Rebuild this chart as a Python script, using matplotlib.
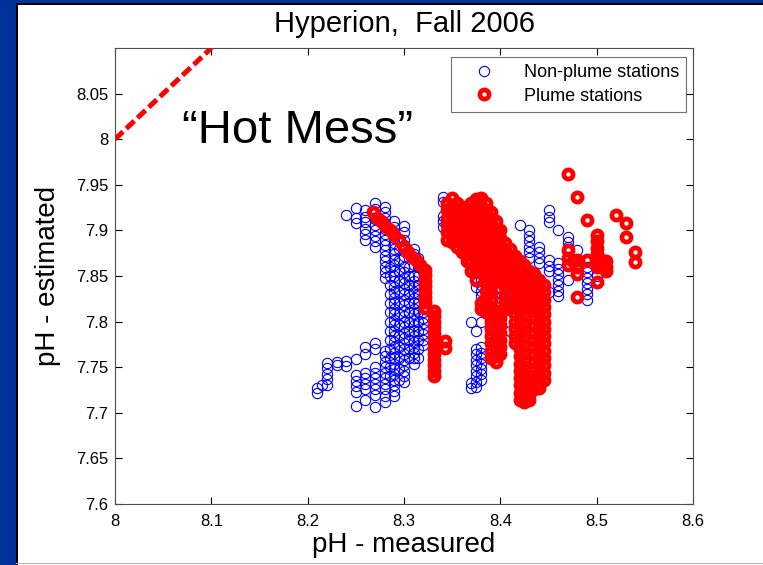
import matplotlib
matplotlib.use('Agg')
import matplotlib.pyplot as plt
from matplotlib.patches import Rectangle

plt.rcParams['font.family'] = ['Liberation Sans', 'DejaVu Sans']

# Data: columns of (measured pH, [estimated pH values])
blue_left = [
    (8.21, [7.727, 7.722]),
    (8.215, [7.73]),
    (8.22, [7.755, 7.749, 7.743, 7.737, 7.731]),
    (8.23, [7.756, 7.752]),
    (8.24, [7.917, 7.757, 7.751]),
    (8.25, [7.925, 7.914, 7.908, 7.759, 7.741, 7.735, 7.729, 7.723, 7.708]),
    (8.26, [7.922, 7.915, 7.909, 7.902, 7.896, 7.89, 7.772, 7.765, 7.744, 7.738, 7.732, 7.726, 7.714]),
    (8.27, [7.93, 7.924, 7.918, 7.912, 7.906, 7.9, 7.894, 7.888, 7.882, 7.777, 7.77, 7.75, 7.744,
            7.738, 7.732, 7.726, 7.72, 7.706]),
    (8.28, [7.926, 7.92, 7.914, 7.908, 7.902, 7.896, 7.89, 7.884, 7.878, 7.872, 7.866, 7.86, 7.854,
            7.848, 7.768, 7.762, 7.756, 7.75, 7.744, 7.738, 7.732, 7.726, 7.718, 7.712]),
    (8.285, [7.86, 7.85, 7.84, 7.83, 7.82, 7.81, 7.8, 7.79, 7.78, 7.77, 7.76, 7.75, 7.74]),
    (8.29, [7.91, 7.904, 7.898, 7.892, 7.886, 7.88, 7.874, 7.868, 7.862, 7.856, 7.85, 7.844, 7.838,
            7.832, 7.826, 7.82, 7.814, 7.808, 7.802, 7.796, 7.79, 7.784, 7.778, 7.772, 7.766, 7.76,
            7.754, 7.748, 7.742, 7.736, 7.73, 7.724, 7.718]),
    (8.295, [7.88, 7.868, 7.856, 7.844, 7.832, 7.82, 7.808, 7.796, 7.784, 7.772, 7.76, 7.748, 7.736]),
    (8.30, [7.905, 7.898, 7.89, 7.884, 7.872, 7.86, 7.854, 7.848, 7.842, 7.836, 7.83, 7.824, 7.818,
            7.812, 7.806, 7.8, 7.794, 7.788, 7.782, 7.776, 7.77, 7.764, 7.758, 7.752, 7.746, 7.74, 7.734]),
    (8.305, [7.86, 7.85, 7.84, 7.83, 7.82, 7.81, 7.8, 7.79, 7.78, 7.77, 7.76]),
    (8.31, [7.88, 7.874, 7.862, 7.85, 7.844, 7.838, 7.832, 7.826, 7.82, 7.814, 7.808, 7.802, 7.796,
            7.79, 7.784, 7.778, 7.772, 7.766, 7.76, 7.754]),
    (8.315, [7.87, 7.86, 7.85, 7.84, 7.83, 7.82, 7.81, 7.8, 7.79, 7.78, 7.77, 7.76]),
    (8.32, [7.81, 7.804, 7.798, 7.792, 7.786, 7.78, 7.774]),
]

blue_mid = [
    (8.34, [7.937, 7.931, 7.916, 7.91, 7.904]),
    (8.345, [7.928, 7.9]),
    (8.35, [7.905, 7.898, 7.891]),
    (8.36, [7.89, 7.883]),
    (8.37, [7.80, 7.733, 7.727]),
    (8.375, [7.845, 7.838, 7.79, 7.77, 7.764, 7.758, 7.752, 7.746, 7.74, 7.734, 7.728]),
    (8.38, [7.846, 7.84, 7.834, 7.828, 7.822, 7.8, 7.772, 7.766, 7.76, 7.754, 7.748, 7.742, 7.736]),
    (8.39, [7.838, 7.832, 7.826, 7.82, 7.814, 7.808, 7.8, 7.794, 7.788, 7.782, 7.776, 7.77, 7.764]),
    (8.40, [7.838, 7.832, 7.826, 7.82]),
    (8.41, [7.79]),
    (8.42, [7.906]),
    (8.43, [7.90, 7.894, 7.888, 7.882, 7.876, 7.87]),
    (8.44, [7.882, 7.876, 7.87, 7.864]),
]

blue_right = [
    (8.45, [7.922, 7.915, 7.909, 7.868, 7.861, 7.855, 7.833]),
    (8.46, [7.90, 7.864, 7.858, 7.852, 7.846, 7.84, 7.834, 7.828]),
    (8.47, [7.893, 7.887, 7.882, 7.846]),
    (8.48, [7.878]),
    (8.49, [7.866, 7.86, 7.854, 7.848, 7.842, 7.836, 7.83, 7.824]),
    (8.50, [7.85]),
]

red_band = [
    (8.268, [7.92]), (8.272, [7.914]), (8.276, [7.91]), (8.28, [7.905]),
    (8.285, [7.9]), (8.29, [7.895]), (8.295, [7.889]), (8.30, [7.882]),
    (8.304, [7.876]), (8.308, [7.871]), (8.312, [7.867]), (8.317, [7.862]),
    (8.322, [7.857, 7.851, 7.845, 7.839, 7.833, 7.827, 7.821, 7.815]),
    (8.331, [7.812, 7.806, 7.8, 7.794, 7.788, 7.782, 7.776, 7.77, 7.764, 7.758, 7.752, 7.746, 7.74]),
    (8.343, [7.779, 7.771]),
]

red_mass = [
    (8.345, [7.93, 7.922, 7.914, 7.906, 7.898, 7.89]),
    (8.35, [7.935, 7.927, 7.919, 7.911, 7.903, 7.895, 7.887]),
    (8.355, [7.93, 7.922, 7.914, 7.906, 7.898, 7.89, 7.882]),
    (8.36, [7.926, 7.918, 7.91, 7.902, 7.894, 7.886, 7.876]),
    (8.365, [7.924, 7.916, 7.908, 7.9, 7.892, 7.884, 7.876, 7.866]),
    (8.37, [7.93, 7.922, 7.914, 7.906, 7.898, 7.89, 7.882, 7.874, 7.866, 7.856]),
    (8.375, [7.934, 7.926, 7.918, 7.91, 7.902, 7.894, 7.886, 7.878, 7.87, 7.862, 7.854, 7.846]),
    (8.38, [7.935, 7.927, 7.919, 7.911, 7.903, 7.895, 7.887, 7.879, 7.871, 7.863, 7.855, 7.82, 7.814]),
    (8.385, [7.93, 7.922, 7.914, 7.906, 7.898, 7.89, 7.882, 7.874, 7.866, 7.858, 7.85, 7.842,
             7.834, 7.826, 7.818, 7.81]),
    (8.39, [7.92, 7.912, 7.904, 7.896, 7.888, 7.88, 7.872, 7.864, 7.856, 7.848, 7.84, 7.832, 7.824,
            7.816, 7.808, 7.8, 7.792, 7.784, 7.776, 7.768, 7.76]),
    (8.395, [7.91, 7.902, 7.894, 7.886, 7.878, 7.87, 7.862, 7.854, 7.846, 7.81, 7.802, 7.794,
             7.786, 7.778, 7.77, 7.762, 7.756]),
    (8.40, [7.9, 7.892, 7.884, 7.876, 7.868, 7.86, 7.852, 7.844, 7.812, 7.804, 7.796, 7.788,
            7.78, 7.772, 7.764]),
    (8.405, [7.886, 7.878, 7.87, 7.862, 7.854, 7.846, 7.838, 7.83, 7.822, 7.814]),
    (8.41, [7.88, 7.872, 7.864, 7.856, 7.848, 7.84, 7.832, 7.824, 7.816]),
    (8.415, [7.872, 7.864, 7.856, 7.848, 7.84, 7.832, 7.824, 7.816, 7.808, 7.8, 7.792, 7.784, 7.776]),
    (8.42, [7.866, 7.858, 7.85, 7.842, 7.834, 7.826, 7.818, 7.81, 7.802, 7.794, 7.786, 7.778,
            7.77, 7.762, 7.754, 7.746, 7.738, 7.73, 7.722, 7.714]),
    (8.425, [7.862, 7.854, 7.846, 7.838, 7.83, 7.822, 7.814, 7.806, 7.798, 7.79, 7.782, 7.774,
             7.766, 7.758, 7.75, 7.742, 7.734, 7.726, 7.718, 7.712]),
    (8.43, [7.856, 7.848, 7.84, 7.832, 7.824, 7.816, 7.736, 7.728, 7.72, 7.714]),
    (8.435, [7.852, 7.844, 7.836, 7.828, 7.82, 7.812, 7.804, 7.796, 7.788, 7.78, 7.772, 7.764,
             7.756, 7.748, 7.74, 7.732, 7.726]),
    (8.44, [7.846, 7.838, 7.83, 7.822, 7.814, 7.806, 7.798, 7.79, 7.782, 7.774, 7.766, 7.758,
            7.75, 7.742, 7.734, 7.727]),
    (8.445, [7.84, 7.832, 7.824, 7.816, 7.808, 7.8, 7.792, 7.784, 7.776, 7.768, 7.76, 7.752,
             7.744, 7.736]),
]

red_right = [
    (8.441, [7.827]),
    (8.47, [7.962, 7.878, 7.87, 7.862]),
    (8.475, [7.866]),
    (8.48, [7.937, 7.868, 7.86, 7.852, 7.827]),
    (8.49, [7.911, 7.868]),
    (8.50, [7.895, 7.888, 7.881, 7.874, 7.867, 7.86, 7.843]),
    (8.505, [7.868, 7.862]),
    (8.51, [7.866, 7.86, 7.855]),
    (8.52, [7.917]),
    (8.53, [7.908, 7.893]),
    (8.54, [7.876, 7.865]),
]

# 1:1 reference line
ref_x = [8.0, 8.1]

xtick_vals = [8.0, 8.1, 8.2, 8.3, 8.4, 8.5, 8.6]
xtick_labels = ['8', '8.1', '8.2', '8.3', '8.4', '8.5', '8.6']
ytick_vals = [7.6, 7.65, 7.7, 7.75, 7.8, 7.85, 7.9, 7.95, 8.0, 8.05]
ytick_labels = ['7.6', '7.65', '7.7', '7.75', '7.8', '7.85', '7.9', '7.95', '8', '8.05']


def flatten(cols):
    xs, ys = [], []
    for x, yy in cols:
        xs += [x] * len(yy)
        ys += yy
    return xs, ys


bx, by = flatten(blue_left + blue_mid + blue_right)
rx, ry = flatten(red_band + red_mass + red_right)

fig = plt.figure(figsize=(7.63, 5.65), dpi=100)
fig.patch.set_facecolor('white')

# slide frame: dark blue band on the left and top
fig.add_artist(Rectangle((0, 0), 16 / 763, 1, transform=fig.transFigure, color='#003399', lw=0))
fig.add_artist(Rectangle((0, 1 - 3 / 565), 1, 3 / 565, transform=fig.transFigure, color='#003399', lw=0))
fig.add_artist(Rectangle((16 / 763, 0), 1.5 / 763, 1 - 3 / 565, transform=fig.transFigure, color='black', lw=0))
fig.add_artist(Rectangle((16 / 763, 1 - 4.5 / 565), 1, 1.5 / 565, transform=fig.transFigure, color='black', lw=0))
fig.add_artist(Rectangle((16 / 763, 1.5 / 565), 1, 1 / 565, transform=fig.transFigure, color='0.7', lw=0))

ax = fig.add_axes([115 / 763, 61 / 565, 578 / 763, 456 / 565])

ax.plot(bx, by, 'o', mfc='none', mec='blue', ms=7.4, mew=0.8, label='Non-plume stations')
ax.plot(rx, ry, 'o', mfc='none', mec='red', ms=6.6, mew=3.4, label='Plume stations')
ax.plot(ref_x, ref_x, color='red', lw=3.6, dashes=(2.2, 0.9))

ax.set_xlim(8.0, 8.6)
ax.set_ylim(7.6, 8.1)
ax.set_xticks(xtick_vals)
ax.set_xticklabels(xtick_labels)
ax.set_yticks(ytick_vals)
ax.set_yticklabels(ytick_labels)
ax.tick_params(direction='in', length=5, width=0.8, top=True, right=True, labelsize=12, colors='black')
ax.tick_params(axis='y', pad=5)
ax.tick_params(axis='x', pad=7)
for sp in ax.spines.values():
    sp.set_color('0.3')
    sp.set_linewidth(0.8)

ax.set_title('Hyperion,  Fall 2006', fontsize=21, pad=11.5)
ax.set_xlabel('pH - measured', fontsize=20)
ax.set_ylabel('pH - estimated', fontsize=20)
ax.xaxis.set_label_coords(0.5, -0.062)
ax.yaxis.set_label_coords(-0.093, 0.5)

ax.text(0.116, 0.792, '\u201cHot Mess\u201d', fontsize=34, transform=ax.transAxes,
        ha='left', va='baseline')

leg = ax.legend(loc='upper right', bbox_to_anchor=(0.988, 0.98), borderaxespad=0, fontsize=13,
                frameon=True, fancybox=False, edgecolor='0.3', handlelength=2.8,
                handletextpad=0.8, borderpad=0.4, labelspacing=0.35, numpoints=1)
leg.get_frame().set_linewidth(0.8)

fig.savefig('out.png', dpi=100)
